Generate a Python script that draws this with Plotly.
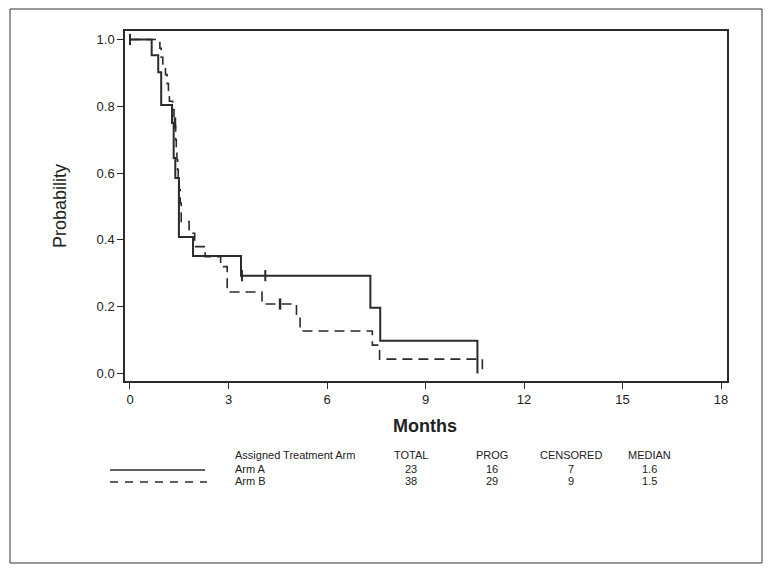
import plotly.graph_objects as go

# ---- data ----
arm_a_time = [0, 0.66, 0.86, 0.95, 1.28, 1.33, 1.38, 1.49, 1.92, 3.38, 7.32, 7.62, 10.58]
arm_a_surv = [1.0, 0.953, 0.902, 0.804, 0.75, 0.645, 0.585, 0.409, 0.352, 0.293, 0.197, 0.098, 0.0]
arm_a_cens_time = [0.0, 3.41, 4.12]
arm_a_cens_surv = [1.0, 0.293, 0.293]

arm_b_time = [0, 0.91, 0.95, 1.00, 1.08, 1.13, 1.17, 1.20, 1.30, 1.34, 1.38, 1.39, 1.41, 1.43,
              1.45, 1.47, 1.50, 1.53, 1.56, 1.80, 1.97, 2.29, 2.76, 2.96, 4.02, 5.07, 5.18,
              7.38, 7.60, 10.73]
arm_b_surv = [1.0, 0.974, 0.947, 0.92, 0.895, 0.868, 0.842, 0.815, 0.79, 0.765, 0.74, 0.70,
              0.67, 0.64, 0.61, 0.58, 0.55, 0.51, 0.455, 0.42, 0.38, 0.35, 0.32, 0.244, 0.208,
              0.175, 0.127, 0.085, 0.043, 0.0]
arm_b_cens_time = [1.37, 4.57]
arm_b_cens_surv = [0.75, 0.208]

x_ticks = [0, 3, 6, 9, 12, 15, 18]
y_ticks = [0.0, 0.2, 0.4, 0.6, 0.8, 1.0]

table_header = ["Assigned Treatment Arm", "TOTAL", "PROG", "CENSORED", "MEDIAN"]
table_rows = [["Arm A", "23", "16", "7", "1.6"],
              ["Arm B", "38", "29", "9", "1.5"]]

# ---- layout geometry (reference pixels; page body adds an 8px offset) ----
OFF = 8
W, H = 771 - OFF, 573 - OFF
L, R, T, B = 125 - OFF, 727 - OFF, 31 - OFF, 381 - OFF
PW, PH = R - L, B - T


def px(x):
    return (x - OFF - L) / PW


def py(y):
    return (B - (y - OFF)) / PH


LINE = "#2b2b2b"
FONT = "Liberation Sans, Arial, sans-serif"
NARROW = "Liberation Sans Narrow, Liberation Sans, Arial, sans-serif"

fig = go.Figure()
fig.add_trace(go.Scatter(x=arm_a_time, y=arm_a_surv, mode="lines", line_shape="hv",
                         line=dict(color=LINE, width=2), name="Arm A", showlegend=False))
fig.add_trace(go.Scatter(x=arm_b_time, y=arm_b_surv, mode="lines", line_shape="hv",
                         line=dict(color=LINE, width=1.6, dash="10px,6px"), name="Arm B",
                         showlegend=False))
fig.add_trace(go.Scatter(x=arm_a_cens_time, y=arm_a_cens_surv, mode="markers",
                         marker=dict(symbol="line-ns", size=8, line=dict(color=LINE, width=2)),
                         showlegend=False))
fig.add_trace(go.Scatter(x=arm_b_cens_time, y=arm_b_cens_surv, mode="markers",
                         marker=dict(symbol="line-ns", size=8, line=dict(color=LINE, width=2.5)),
                         showlegend=False))

shapes = []
# outer border
shapes.append(dict(type="rect", xref="paper", yref="paper",
                   x0=px(10), x1=px(762), y0=py(563), y1=py(9),
                   line=dict(color="#333", width=1)))
# legend samples
shapes.append(dict(type="line", xref="paper", yref="paper",
                   x0=px(110), x1=px(205), y0=py(470), y1=py(470),
                   line=dict(color=LINE, width=1.5)))
shapes.append(dict(type="line", xref="paper", yref="paper",
                   x0=px(110), x1=px(207), y0=py(482), y1=py(482),
                   line=dict(color=LINE, width=1.5, dash="8px,7px")))

annotations = []
annotations.append(dict(text="Probability", xref="paper", yref="paper", x=px(60), y=py(206),
                        showarrow=False, textangle=-90, font=dict(family=FONT, size=18, color="#222"),
                        xanchor="center", yanchor="middle"))
annotations.append(dict(text="<b>Months</b>", xref="paper", yref="paper", x=px(425), y=py(426),
                        showarrow=False, font=dict(family=FONT, size=18, color="#222"),
                        xanchor="center", yanchor="middle"))

col_x = [233, 411, 492, 571, 649]
row_y = [455, 469, 481]
for j, h in enumerate(table_header):
    annotations.append(dict(text=h, xref="paper", yref="paper", x=px(col_x[j]), y=py(row_y[0]),
                            showarrow=False, font=dict(family=NARROW, size=11, color="#222"),
                            xanchor="left" if j == 0 else "center", yanchor="middle"))
for i, row in enumerate(table_rows):
    for j, v in enumerate(row):
        annotations.append(dict(text=v, xref="paper", yref="paper", x=px(col_x[j]),
                                y=py(row_y[i + 1]), showarrow=False,
                                font=dict(family=NARROW, size=11, color="#222"),
                                xanchor="left" if j == 0 else "center", yanchor="middle"))

fig.update_layout(
    width=W, height=H,
    margin=dict(l=L, r=W - R, t=T, b=H - B, pad=0),
    paper_bgcolor="white", plot_bgcolor="white",
    shapes=shapes, annotations=annotations,
    xaxis=dict(range=[-0.152, 18.18], tickvals=x_ticks, ticktext=[str(v) for v in x_ticks],
               ticks="outside", ticklen=6, tickwidth=1, tickcolor=LINE,
               showline=True, linecolor=LINE, linewidth=1.5, mirror=True,
               showgrid=False, zeroline=False,
               tickfont=dict(family=FONT, size=13, color="#222")),
    yaxis=dict(range=[-0.0225, 1.0255], tickvals=y_ticks,
               ticktext=["%.1f" % v for v in y_ticks],
               ticks="outside", ticklen=6, tickwidth=1, tickcolor=LINE,
               showline=True, linecolor=LINE, linewidth=1.5, mirror=True,
               showgrid=False, zeroline=False,
               tickfont=dict(family=FONT, size=13, color="#222")),
)

fig.write_html("out.html")
